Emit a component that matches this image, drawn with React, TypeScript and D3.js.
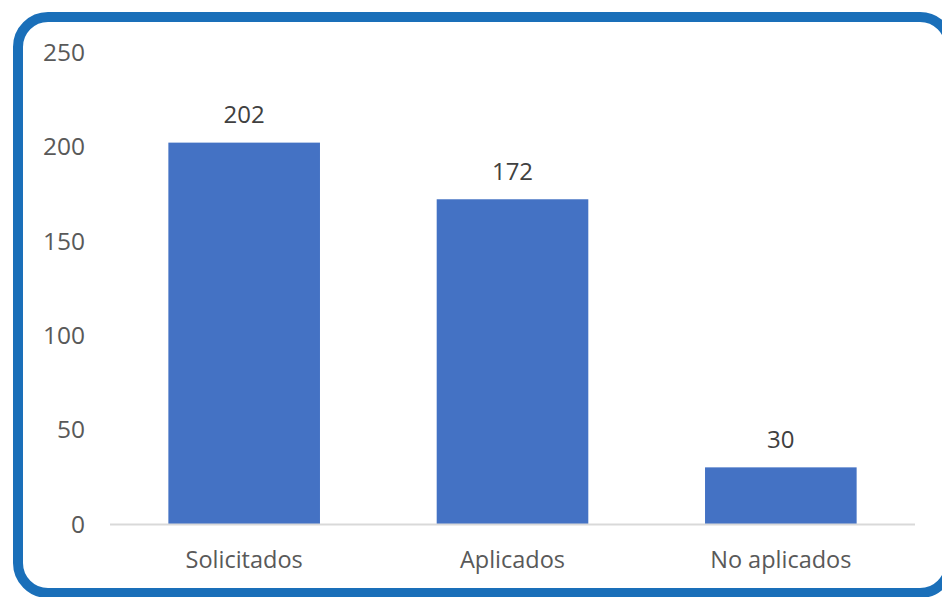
import React from "react";
import * as d3 from "d3";

const categories = ["Solicitados", "Aplicados", "No aplicados"];
const values = [202, 172, 30];
const yTicks = [0, 50, 100, 150, 200, 250];

export default function App() {
  const W = 942, H = 597;
  const x = d3.scaleBand<string>().domain(categories).range([110, 915]).paddingInner(0.435).paddingOuter(0.2175);
  const y = d3.scaleLinear().domain([0, 250]).range([524, 52]);
  const font = "'Open Sans', 'Noto Sans', sans-serif";
  return (
    <svg width={W} height={H} style={{ position: "absolute", left: 0, top: 0, background: "#fff" }}>
      <rect x={18} y={17} width={932} height={576} rx={30} ry={30} fill="#fff" stroke="#1a6fb9" strokeWidth={10} />
      {yTicks.map((t) => (
        <text key={t} x={85} y={y(t)} dy="0.36em" textAnchor="end" fontFamily={font} fontSize={24.5} fill="#595959">{t}</text>
      ))}
      {categories.map((c, i) => (
        <g key={c}>
          <rect x={x(c)} y={y(values[i])} width={x.bandwidth()} height={y(0) - y(values[i])} fill="#4472c4" />
          <text x={(x(c) as number) + x.bandwidth() / 2} y={y(values[i]) - 28} dy="0.36em" textAnchor="middle" fontFamily={font} fontSize={24} fill="#404040">{values[i]}</text>
          <text x={(x(c) as number) + x.bandwidth() / 2} y={560} dy="0.36em" textAnchor="middle" fontFamily={font} fontSize={23.5} fill="#595959">{c}</text>
        </g>
      ))}
      <line x1={110} x2={915} y1={y(0) + 0.5} y2={y(0) + 0.5} stroke="#d9d9d9" strokeWidth={2} />
    </svg>
  );
}
